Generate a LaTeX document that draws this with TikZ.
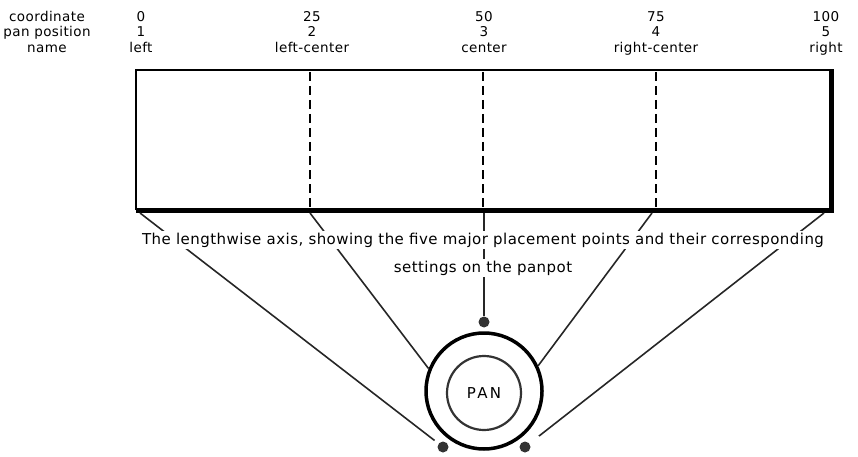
\documentclass[tikz,border=0pt]{standalone}
\usepackage{fontspec}
\setmainfont{DejaVu Sans}
\newfontfamily\spacedfont[LetterSpace=3]{DejaVu Sans}
\newfontfamily\panfont[LetterSpace=15]{DejaVu Sans}
\tikzset{
  axislabel/.style={align=center, inner sep=0pt, anchor=north, text depth=3.5pt,
    font=\spacedfont\fontsize{13.5}{15.5}\selectfont},
  caption/.style={fill=white, inner sep=1.5pt, font=\spacedfont\fontsize{15}{17}\selectfont},
  dot/.style={circle, fill=black!80, minimum size=11pt, inner sep=0pt},
  spoke/.style={line width=1.6pt, black!85},
}
\begin{document}
\begin{tikzpicture}[x=1pt,y=-1pt]
  \useasboundingbox (0,0) rectangle (858,457);
  % the stage, seen lengthwise
  \draw[line width=2.5pt] (136,70) rectangle (830,209);
  \draw[line width=5pt] (136,210.5) -- (831.5,210.5) -- (831.5,69);
  \foreach \x in {310,483,656}
    \draw[line width=1.8pt, dash pattern=on 9pt off 5pt] (\x,72) -- (\x,208);
  \foreach \i/\x in {0/140,1/310,2/484,3/652,4/824}
    \coordinate (p\i) at (\x,213);
  % labels above
  \node[axislabel] (head) at (47,11) {coordinate\\pan position\\name};
  \node[axislabel] (c0) at (141,11) {0\\1\\left};
  \node[axislabel] (c1) at (312,11) {25\\2\\left-center};
  \node[axislabel] (c2) at (484,11) {50\\3\\center};
  \node[axislabel] (c3) at (656,11) {75\\4\\right-center};
  \node[axislabel] (c4) at (826,11) {100\\5\\right};
  % the panpot
  \node[circle, draw, line width=3.5pt, minimum size=116pt] (knob) at (484,391) {};
  \node[circle, draw=black!80, line width=2.2pt, minimum size=74pt,
        font=\panfont\fontsize{15}{15}\selectfont] (pan) at (484,393) {PAN};
  \node[dot] (dotT) at (484,322) {};
  \node[dot] (dotL) at (443,447) {};
  \node[dot] (dotR) at (525,447) {};
  % spokes
  \draw[spoke, shorten >=5pt] (p0) -- (dotL);
  \draw[spoke] (p1) -- (knob.158);
  \draw[spoke] (p2) -- (dotT);
  \draw[spoke] (p3) -- (knob.25);
  \draw[spoke, shorten >=12pt] (p4) -- (dotR);
  % caption
  \node[caption] (cap1) at (483,240) {The lengthwise axis, showing the five major placement points and their corresponding};
  \node[caption] (cap2) at (483,268) {settings on the panpot};
\end{tikzpicture}
\end{document}
